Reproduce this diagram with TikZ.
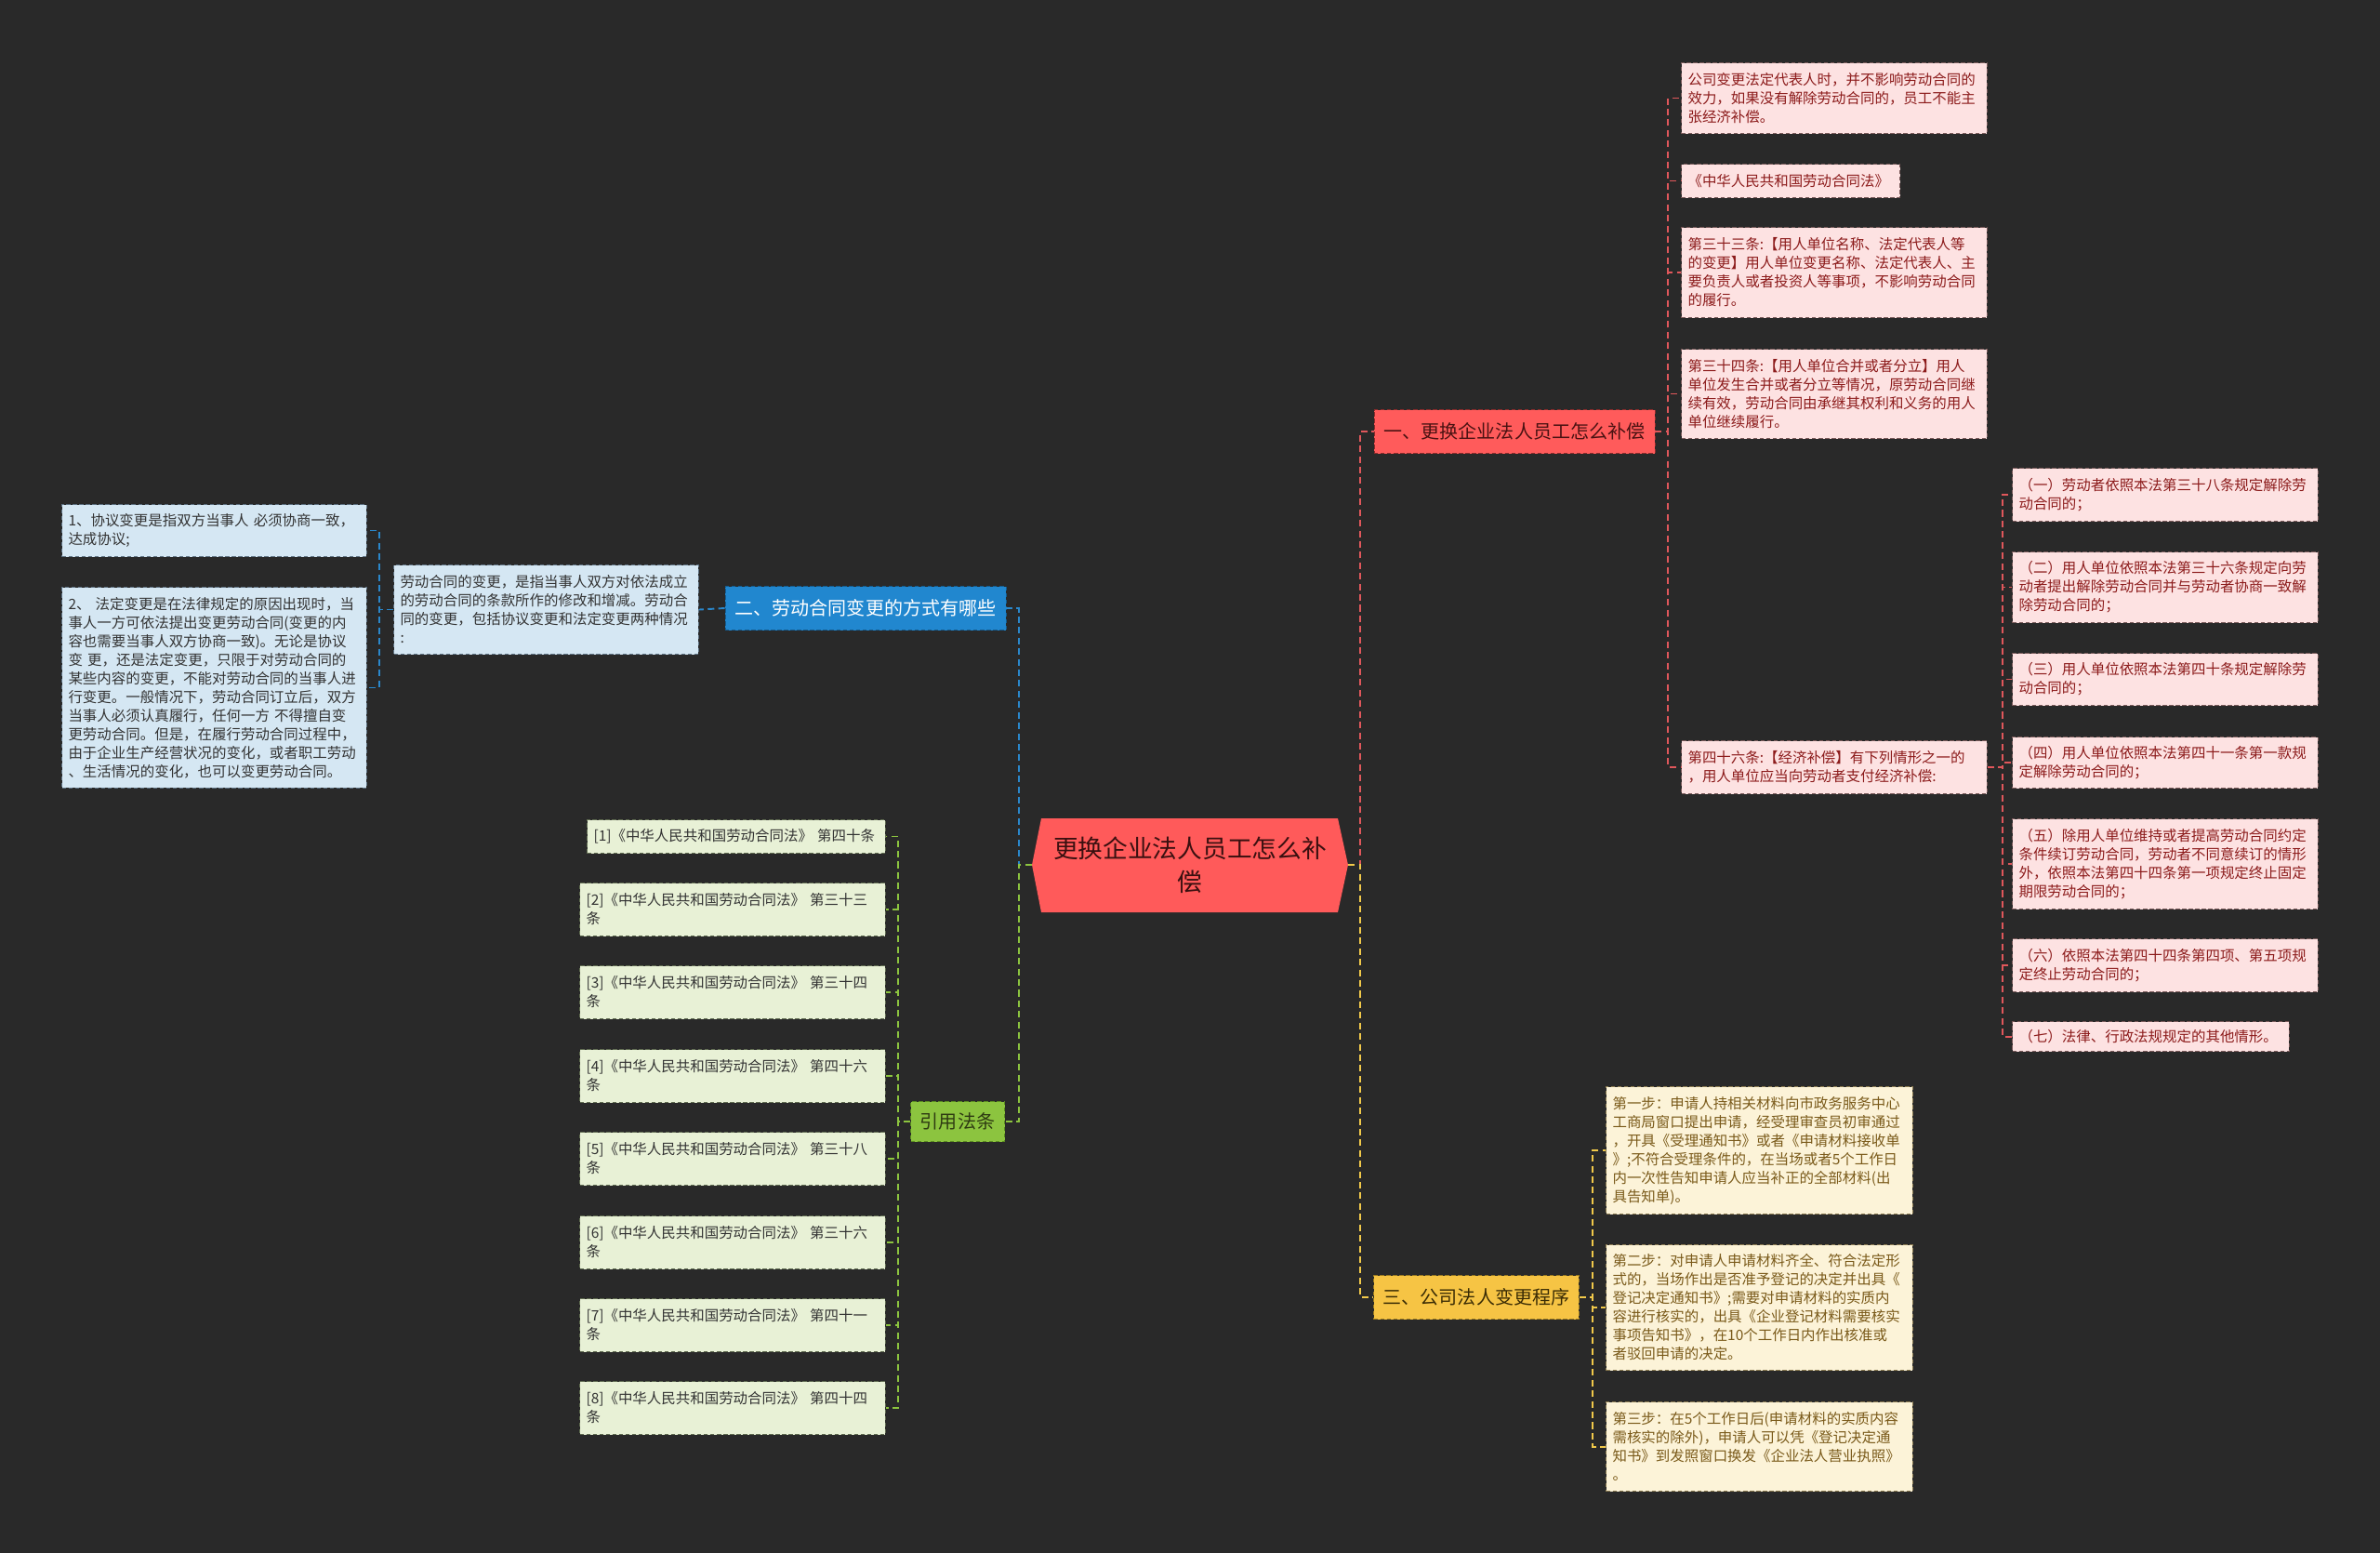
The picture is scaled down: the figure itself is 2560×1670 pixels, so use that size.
\documentclass[tikz,border=0pt]{standalone}
\usepackage{fontspec}
\setmainfont{Noto Sans CJK SC}
\usepackage{xcolor}
\usetikzlibrary{positioning,calc}

\definecolor{bgdark}{HTML}{292929}
\definecolor{rootFill}{HTML}{FF5A5A}
\definecolor{rootInk}{HTML}{3A1010}
\definecolor{brRed}{HTML}{FF5B5B}
\definecolor{brRedLine}{HTML}{8A2A2A}
\definecolor{brRedInk}{HTML}{4A1212}
\definecolor{leafRed}{HTML}{FDE2E2}
\definecolor{leafRedLine}{HTML}{7A5A5A}
\definecolor{leafRedInk}{HTML}{8C1B1B}
\definecolor{brBlue}{HTML}{2187CF}
\definecolor{brBlueLine}{HTML}{145C8F}
\definecolor{leafBlue}{HTML}{D5E7F3}
\definecolor{leafBlueLine}{HTML}{5F7384}
\definecolor{brGreen}{HTML}{8CC43F}
\definecolor{brGreenLine}{HTML}{5A8A20}
\definecolor{brGreenInk}{HTML}{2E3A12}
\definecolor{leafGreen}{HTML}{E8F1D6}
\definecolor{leafGreenLine}{HTML}{5F6B50}
\definecolor{brYellow}{HTML}{F6C444}
\definecolor{brYellowLine}{HTML}{9A7A20}
\definecolor{brYellowInk}{HTML}{3A2C05}
\definecolor{leafYellow}{HTML}{FCF3D8}
\definecolor{leafYellowLine}{HTML}{8A7A50}
\definecolor{leafYellowInk}{HTML}{7A5A1A}
\definecolor{lnRed}{HTML}{E0575B}
\definecolor{lnBlue}{HTML}{2A88CC}
\definecolor{lnGreen}{HTML}{8CC43F}
\definecolor{lnYellow}{HTML}{F1C94A}

\begin{document}
\begin{tikzpicture}[x=0.02cm, y=-0.02cm,
    root/.style={minimum width=6.8cm, minimum height=2.02cm, align=center, inner sep=0pt, text=rootInk, font=\fontsize{15.2}{20.5}\selectfont},
    branch/.style={rectangle, draw, dash pattern=on 2.5pt off 1.5pt, minimum height=0.94cm, align=center, inner sep=0pt, font=\fontsize{11.4}{14}\selectfont},
    leaf/.style={rectangle, draw, dash pattern=on 2.5pt off 1.5pt, line width=0.6pt, anchor=north west, align=left, inner xsep=0.14cm, inner ysep=0pt, font=\fontsize{8.8}{11.38}\selectfont},
    redleaf/.style={leaf, fill=leafRed, draw=leafRedLine, text=leafRedInk},
    blueleaf/.style={leaf, fill=leafBlue, draw=leafBlueLine, text=black!80},
    greenleaf/.style={leaf, fill=leafGreen, draw=leafGreenLine, text=black!80},
    yellowleaf/.style={leaf, fill=leafYellow, draw=leafYellowLine, text=leafYellowInk},
    link/.style={line width=1.1pt, dash pattern=on 4pt off 2.5pt},
]
% Background
\fill[bgdark] (0,0) rectangle (2560,1670);
\useasboundingbox (0,0) rectangle (2560,1670);
% Root
\fill[rootFill] (1110,930) -- (1120,880) -- (1439,880) -- (1450,930) -- (1439,981) -- (1120,981) -- cycle;
\node[root] (root) at (1280,930) {更换企业法人员工怎么补\\偿};
% Branches
\node[branch, fill=brRed, draw=brRedLine, text=brRedInk, minimum width=6.04cm] (change) at (1629,464) {一、更换企业法人员工怎么补偿};
\node[branch, fill=brBlue, draw=brBlueLine, text=white, minimum width=6.04cm] (ways) at (931,654) {二、劳动合同变更的方式有哪些};
\node[branch, fill=brYellow, draw=brYellowLine, text=brYellowInk, minimum width=4.42cm] (steps) at (1588,1395) {三、公司法人变更程序};
\node[branch, fill=brGreen, draw=brGreenLine, text=brGreenInk, minimum width=2.02cm, minimum height=0.86cm] (refs) at (1030,1206) {引用法条};
% Leaves of change
\node[redleaf, text width=6.30cm, minimum height=1.52cm] (keep) at (1808,67) {公司变更法定代表人时，并不影响劳动合同的\\效力，如果没有解除劳动合同的，员工不能主\\张经济补偿。};
\node[redleaf, text width=4.42cm, minimum height=0.72cm] (lawname) at (1808,176) {《中华人民共和国劳动合同法》};
\node[redleaf, text width=6.30cm, minimum height=1.94cm] (art33) at (1808,244) {第三十三条:【用人单位名称、法定代表人等\\的变更】用人单位变更名称、法定代表人、主\\要负责人或者投资人等事项，不影响劳动合同\\的履行。};
\node[redleaf, text width=6.30cm, minimum height=1.92cm] (art34) at (1808,375) {第三十四条:【用人单位合并或者分立】用人\\单位发生合并或者分立等情况，原劳动合同继\\续有效，劳动合同由承继其权利和义务的用人\\单位继续履行。};
\node[redleaf, text width=6.30cm, minimum height=1.14cm] (art46) at (1808,796) {第四十六条:【经济补偿】有下列情形之一的\\，用人单位应当向劳动者支付经济补偿:};
% Cases of art46
\node[redleaf, text width=6.30cm, minimum height=1.14cm] (case1) at (2164,503) {（一）劳动者依照本法第三十八条规定解除劳\\动合同的；};
\node[redleaf, text width=6.30cm, minimum height=1.52cm] (case2) at (2164,593) {（二）用人单位依照本法第三十六条规定向劳\\动者提出解除劳动合同并与劳动者协商一致解\\除劳动合同的；};
\node[redleaf, text width=6.30cm, minimum height=1.12cm] (case3) at (2164,702) {（三）用人单位依照本法第四十条规定解除劳\\动合同的；};
\node[redleaf, text width=6.30cm, minimum height=1.10cm] (case4) at (2164,792) {（四）用人单位依照本法第四十一条第一款规\\定解除劳动合同的；};
\node[redleaf, text width=6.30cm, minimum height=1.94cm] (case5) at (2164,880) {（五）除用人单位维持或者提高劳动合同约定\\条件续订劳动合同，劳动者不同意续订的情形\\外，依照本法第四十四条第一项规定终止固定\\期限劳动合同的；};
\node[redleaf, text width=6.30cm, minimum height=1.14cm] (case6) at (2164,1009) {（六）依照本法第四十四条第四项、第五项规\\定终止劳动合同的；};
\node[redleaf, text width=5.68cm, minimum height=0.64cm] (case7) at (2164,1098) {（七）法律、行政法规规定的其他情形。};
% Leaves of steps
\node[yellowleaf, text width=6.32cm, minimum height=2.74cm] (step1) at (1727,1168) {第一步：申请人持相关材料向市政务服务中心\\工商局窗口提出申请，经受理审查员初审通过\\，开具《受理通知书》或者《申请材料接收单\\》;不符合受理条件的，在当场或者5个工作日\\内一次性告知申请人应当补正的全部材料(出\\具告知单)。};
\node[yellowleaf, text width=6.32cm, minimum height=2.70cm] (step2) at (1727,1338) {第二步：对申请人申请材料齐全、符合法定形\\式的，当场作出是否准予登记的决定并出具《\\登记决定通知书》;需要对申请材料的实质内\\容进行核实的，出具《企业登记材料需要核实\\事项告知书》，在10个工作日内作出核准或\\者驳回申请的决定。};
\node[yellowleaf, text width=6.32cm, minimum height=1.92cm] (step3) at (1727,1507) {第三步：在5个工作日后(申请材料的实质内容\\需核实的除外)，申请人可以凭《登记决定通\\知书》到发照窗口换发《企业法人营业执照》\\。};
% Leaves of ways
\node[blueleaf, text width=6.28cm, minimum height=1.92cm] (defn) at (423,607) {劳动合同的变更，是指当事人双方对依法成立\\的劳动合同的条款所作的修改和增减。劳动合\\同的变更，包括协议变更和法定变更两种情况\\:};
\node[blueleaf, text width=6.28cm, minimum height=1.12cm] (agree) at (66,542) {1、协议变更是指双方当事人 必须协商一致，\\达成协议;};
\node[blueleaf, text width=6.28cm, minimum height=4.32cm] (legal) at (66,631) {2、 法定变更是在法律规定的原因出现时，当\\事人一方可依法提出变更劳动合同(变更的内\\容也需要当事人双方协商一致)。无论是协议\\变 更，还是法定变更，只限于对劳动合同的\\某些内容的变更，不能对劳动合同的当事人进\\行变更。一般情况下，劳动合同订立后，双方\\当事人必须认真履行，任何一方 不得擅自变\\更劳动合同。但是，在履行劳动合同过程中，\\由于企业生产经营状况的变化，或者职工劳动\\、生活情况的变化，也可以变更劳动合同。};
% Leaves of refs
\node[greenleaf, text width=6.14cm, minimum height=0.72cm] (ref1) at (631,881) {[1]《中华人民共和国劳动合同法》 第四十条};
\node[greenleaf, text width=6.30cm, minimum height=1.14cm] (ref2) at (623,949) {[2]《中华人民共和国劳动合同法》 第三十三\\条};
\node[greenleaf, text width=6.30cm, minimum height=1.14cm] (ref3) at (623,1038) {[3]《中华人民共和国劳动合同法》 第三十四\\条};
\node[greenleaf, text width=6.30cm, minimum height=1.14cm] (ref4) at (623,1128) {[4]《中华人民共和国劳动合同法》 第四十六\\条};
\node[greenleaf, text width=6.30cm, minimum height=1.14cm] (ref5) at (623,1217) {[5]《中华人民共和国劳动合同法》 第三十八\\条};
\node[greenleaf, text width=6.30cm, minimum height=1.14cm] (ref6) at (623,1307) {[6]《中华人民共和国劳动合同法》 第三十六\\条};
\node[greenleaf, text width=6.30cm, minimum height=1.14cm] (ref7) at (623,1396) {[7]《中华人民共和国劳动合同法》 第四十一\\条};
\node[greenleaf, text width=6.30cm, minimum height=1.14cm] (ref8) at (623,1485) {[8]《中华人民共和国劳动合同法》 第四十四\\条};
% Connections from root
\draw[link, lnRed] (root.east) -- ++(13,0) |- (change.west);
\draw[link, lnYellow] (root.east) -- ++(13,0) |- (steps.west);
\draw[link, lnBlue] (root.west) -- ++(-14,0) |- (ways.east);
\draw[link, lnGreen] (root.west) -- ++(-14,0) |- (refs.east);
% Connections of change
\draw[link, lnRed] (change.east) -- ++(14,0) |- (keep.west);
\draw[link, lnRed] (change.east) -- ++(14,0) |- (lawname.west);
\draw[link, lnRed] (change.east) -- ++(14,0) |- (art33.west);
\draw[link, lnRed] (change.east) -- ++(14,0) |- (art34.west);
\draw[link, lnRed] (change.east) -- ++(14,0) |- (art46.west);
\draw[link, lnRed] (art46.east) -- ++(16,0) |- (case1.west);
\draw[link, lnRed] (art46.east) -- ++(16,0) |- (case2.west);
\draw[link, lnRed] (art46.east) -- ++(16,0) |- (case3.west);
\draw[link, lnRed] (art46.east) -- ++(16,0) |- (case4.west);
\draw[link, lnRed] (art46.east) -- ++(16,0) |- (case5.west);
\draw[link, lnRed] (art46.east) -- ++(16,0) |- (case6.west);
\draw[link, lnRed] (art46.east) -- ++(16,0) |- (case7.west);
% Connections of steps
\draw[link, lnYellow] (steps.east) -- ++(14,0) |- (step1.west);
\draw[link, lnYellow] (steps.east) -- ++(14,0) |- (step2.west);
\draw[link, lnYellow] (steps.east) -- ++(14,0) |- (step3.west);
% Connections of ways
\draw[link, lnBlue] (ways.west) -- (defn.east);
\draw[link, lnBlue] (defn.west) -- ++(-15,0) |- (agree.east);
\draw[link, lnBlue] (defn.west) -- ++(-15,0) |- (legal.east);
% Connections of refs
\draw[link, lnGreen] (refs.west) -- ++(-13,0) |- (ref1.east);
\draw[link, lnGreen] (refs.west) -- ++(-13,0) |- (ref2.east);
\draw[link, lnGreen] (refs.west) -- ++(-13,0) |- (ref3.east);
\draw[link, lnGreen] (refs.west) -- ++(-13,0) |- (ref4.east);
\draw[link, lnGreen] (refs.west) -- ++(-13,0) |- (ref5.east);
\draw[link, lnGreen] (refs.west) -- ++(-13,0) |- (ref6.east);
\draw[link, lnGreen] (refs.west) -- ++(-13,0) |- (ref7.east);
\draw[link, lnGreen] (refs.west) -- ++(-13,0) |- (ref8.east);
\end{tikzpicture}
\end{document}
